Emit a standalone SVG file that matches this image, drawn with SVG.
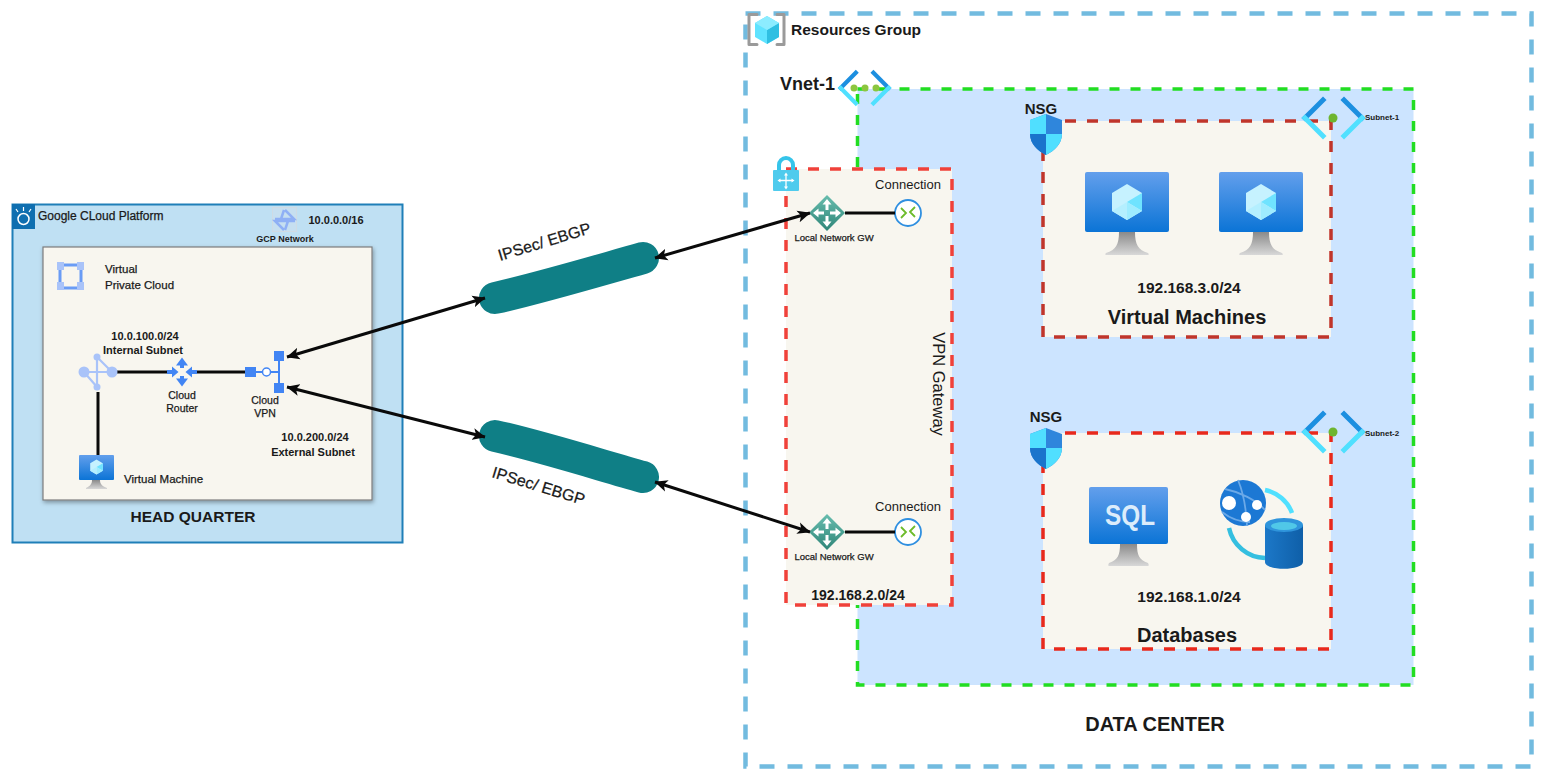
<svg xmlns="http://www.w3.org/2000/svg" xmlns:xlink="http://www.w3.org/1999/xlink" width="1545" height="780" viewBox="0 0 1545 780">
<style>
text{font-family:"Liberation Sans",Arial,sans-serif;fill:#1a1a1a}
.b{font-weight:bold}
.m{text-anchor:middle}
.h{stroke:#1a1a1a;stroke-width:.25}
.conn{fill:none;stroke:#0a0a0a;stroke-width:3}
.link{fill:none;stroke:#0a0a0a;stroke-width:3;marker-start:url(#ah);marker-end:url(#ah)}
.box{fill:#f8f6ef;stroke-width:3.500;stroke-dasharray:11 11}
.gc{fill:#a9c3f9}
</style>
<defs>
<marker id="ah" viewBox="0 0 12 12" refX="11.500" refY="6" markerWidth="13" markerHeight="13" markerUnits="userSpaceOnUse" orient="auto-start-reverse"><path d="M0 0.500L12 6L0 11.500L3 6Z" fill="#0a0a0a"/></marker>
<filter id="sh" x="-5%" y="-5%" width="110%" height="110%"><feDropShadow dx="1" dy="2" stdDeviation="2" flood-color="#000" flood-opacity=".35"/></filter>
<linearGradient id="scr" x1="0" y1="0" x2="0" y2="1"><stop offset="0" stop-color="#639fec"/><stop offset="1" stop-color="#0b74d6"/></linearGradient>
<linearGradient id="std" x1="0" y1="0" x2="0" y2="1"><stop offset="0" stop-color="#8a8a8a"/><stop offset="1" stop-color="#d8d8d8"/></linearGradient>
<linearGradient id="teal" x1="0" y1="0" x2="0" y2="1"><stop offset="0" stop-color="#68bdae"/><stop offset="1" stop-color="#2f8578"/></linearGradient>
<linearGradient id="cyl" x1="0" y1="0" x2="1" y2="0"><stop offset="0" stop-color="#1c78c8"/><stop offset="1" stop-color="#0f5fa8"/></linearGradient>
<g id="monitor">
<rect x="0" y="0" width="84" height="60" rx="2" fill="url(#scr)"/>
<path d="M34 60H50C50 72 53 78 63 81C64 82 64 83 63 83H21C20 83 20 82 21 81C31 78 34 72 34 60Z" fill="url(#std)"/>
</g>
<g id="cube">
<path d="M0 -18L15 -9V9L0 18L-15 9V-9Z" fill="#c6f2ff"/>
<path d="M0 0L15 -9V9Z" fill="#6fe3ff"/>
<path d="M0 0L15 9L0 18Z" fill="#9eecff"/>
<path d="M0 0L-15 9L0 18Z" fill="#b4efff"/>
</g>
<g id="gw">
<path d="M0 -18L18 0L0 18L-18 0Z" fill="url(#teal)"/>
<path d="M0 -14L4.500 -8.500H1.500V-3H-1.500V-8.500H-4.500ZM0 14L4.500 8.500H1.500V3H-1.500V8.500H-4.500ZM-14 0L-8.500 -4.500V-1.500H-3V1.500H-8.500V4.500ZM14 0L8.500 -4.500V-1.500H3V1.500H8.500V4.500Z" fill="#fff"/>
</g>
<g id="connIcon">
<circle r="13" fill="#fff" stroke="#2f8fe0" stroke-width="1.800"/>
<path d="M-7 -5L-2 0L-7 5M7 -6L2 -1L7 4" fill="none" stroke="#6cbb2a" stroke-width="1.800"/>
</g>
<g id="shield">
<path d="M16 0L32 6V20C32 30 24 37 16 41C8 37 0 30 0 20V6Z" fill="#2f86dc"/>
<path d="M16 0V20H0V6ZM16 20H32C32 30 24 37 16 41Z" fill="#50dfff"/>
<path d="M16 20V41C8 37 0 30 0 20Z" fill="#1a74cc"/>
</g>
<g id="subnetIcon">
<path d="M20 -18L2 0" stroke="#1c8fe0" stroke-width="5" fill="none" stroke-linecap="square"/>
<path d="M2 0L20 18" stroke="#50e0ff" stroke-width="5" fill="none" stroke-linecap="square"/>
<path d="M41 -18L59 0" stroke="#1c8fe0" stroke-width="5" fill="none" stroke-linecap="square"/>
<path d="M59 0L41 18" stroke="#50e0ff" stroke-width="5" fill="none" stroke-linecap="square"/>
</g>
</defs>

<rect width="1545" height="780" fill="#fff"/>

<g id="data-center">
<rect x="745.500" y="13.500" width="786" height="753" fill="#fff" stroke="#72bbdf" stroke-width="4.500" stroke-dasharray="15 13"/>
<text class="b m" x="1155" y="731" font-size="20">DATA CENTER</text>
</g>

<g id="resources-group">
<path d="M757 14.500H749V44.500H757M777 14.500H784V44.500H777" fill="none" stroke="#9a9a9a" stroke-width="3" stroke-linejoin="round" stroke-linecap="round"/>
<g transform="translate(767 30)"><path d="M0 -14L12 -7V7L0 14L-12 7V-7Z" fill="#5fe3ff"/><path d="M0 0L12 -7V7L0 14Z" fill="#2fbfe2"/><path d="M0 0L-12 -7L0 -14L12 -7Z" fill="#8cecff"/></g>
<text class="b" x="791" y="35" font-size="15.500">Resources Group</text>
</g>

<g id="vnet">
<rect x="857.500" y="89" width="556" height="596" fill="#cce4ff" stroke="#22dd22" stroke-width="3.500" stroke-dasharray="10 11"/>
<text class="b" x="780" y="90" font-size="18">Vnet-1</text>
<g transform="translate(839 88)">
<use xlink:href="#subnetIcon" href="#subnetIcon" transform="scale(.84 .85)"/>
<circle cx="15" cy="0" r="3.500" fill="#8cc63f"/><circle cx="26" cy="0" r="3.500" fill="#8cc63f"/><circle cx="37" cy="0" r="3.500" fill="#8cc63f"/>
</g>
</g>

<g id="vpn-gateway">
<rect class="box" x="786" y="169" width="166" height="436" stroke="#f0413a"/>
<g transform="translate(773 156)">
<path d="M6 14V9A7 7 0 0 1 20 9V14" fill="none" stroke="#35c4ea" stroke-width="4"/>
<rect x="0" y="14" width="26" height="21" rx="1" fill="#4fcbed"/>
<path d="M13 18V32M6 24.500H20" stroke="#fff" stroke-width="1.300"/>
<path d="M13 16.500L15 19.500H11ZM13 33.500L15 30.500H11ZM4.500 24.500L7.500 22.500V26.500ZM21.500 24.500L18.500 22.500V26.500Z" fill="#fff"/>
</g>
<text class="m" x="908" y="189" font-size="13">Connection</text>
<text class="m" x="908" y="511" font-size="13">Connection</text>
<text class="m" transform="translate(933 384) rotate(90)" font-size="16.500">VPN Gateway</text>
<text class="b m" x="858" y="600" font-size="14">192.168.2.0/24</text>
</g>

<g id="local-gw-1">
<use xlink:href="#gw" href="#gw" x="827" y="213"/>
<text class="m h" x="834" y="241" font-size="9.500">Local Network GW</text>
</g>
<g id="connection-1"><use xlink:href="#connIcon" href="#connIcon" x="908" y="213"/></g>
<g id="local-gw-2">
<use xlink:href="#gw" href="#gw" x="827" y="532"/>
<text class="m h" x="834" y="560" font-size="9.500">Local Network GW</text>
</g>
<g id="connection-2"><use xlink:href="#connIcon" href="#connIcon" x="908" y="532"/></g>

<g id="subnet-1">
<rect class="box" x="1043" y="121" width="288" height="216" stroke="#c0352b"/>
<use xlink:href="#subnetIcon" href="#subnetIcon" x="1303" y="118"/>
<circle cx="1333" cy="118" r="4.500" fill="#6eb52f"/>
<text class="b" x="1365" y="120" font-size="8">Subnet-1</text>
<use xlink:href="#monitor" href="#monitor" x="1085" y="172"/>
<use xlink:href="#cube" href="#cube" x="1127" y="202"/>
<use xlink:href="#monitor" href="#monitor" x="1219" y="172"/>
<use xlink:href="#cube" href="#cube" x="1261" y="202"/>
<text class="b m" x="1189" y="293" font-size="15.500">192.168.3.0/24</text>
<text class="b m" x="1187" y="324" font-size="20">Virtual Machines</text>
</g>
<g id="nsg-1">
<use xlink:href="#shield" href="#shield" x="1030" y="114"/>
<text class="b m" x="1041" y="114" font-size="15">NSG</text>
</g>

<g id="subnet-2">
<rect class="box" x="1043" y="433" width="288" height="216" stroke="#e8291c"/>
<use xlink:href="#subnetIcon" href="#subnetIcon" x="1303" y="432"/>
<circle cx="1333" cy="432" r="4.500" fill="#6eb52f"/>
<text class="b" x="1365" y="436" font-size="8">Subnet-2</text>
<g transform="translate(1089 487)">
<rect x="0" y="0" width="79" height="57" rx="2" fill="url(#scr)"/>
<path d="M31 57H48C48 68 50 73 59 76C60 78 60 79 59 79H20C19 79 19 78 20 76C29 73 31 68 31 57Z" fill="url(#std)"/>
<text class="b m" x="41" y="38" font-size="30" textLength="50" lengthAdjust="spacingAndGlyphs" style="fill:#dcecfb">SQL</text>
</g>
<path d="M1265 490A36 36 0 0 1 1292 513" fill="none" stroke="#50e0ff" stroke-width="4.500"/>
<path d="M1229 528A38 38 0 0 0 1265 558" fill="none" stroke="#35bfe0" stroke-width="4.500"/>
<circle cx="1243" cy="503" r="23" fill="#1c78d4"/>
<path d="M1225 489C1240 492 1256 500 1265 510M1238 480C1243 492 1246 505 1247 526M1222 512C1232 520 1240 522 1250 522" fill="none" stroke="#6ba9e8" stroke-width="1.800"/>
<circle cx="1229" cy="503" r="7" fill="#fff"/><circle cx="1257" cy="505" r="5" fill="#fff"/><circle cx="1246" cy="517" r="5" fill="#fff"/>
<path d="M1265 525V562C1265 571 1303 571 1303 562V525Z" fill="url(#cyl)"/>
<ellipse cx="1284" cy="525" rx="19" ry="7" fill="#2f95dc"/>
<ellipse cx="1284" cy="526" rx="13" ry="4" fill="#50c8e8"/>
<text class="b m" x="1189" y="602" font-size="15.500">192.168.1.0/24</text>
<text class="b m" x="1187" y="642" font-size="20">Databases</text>
</g>
<g id="nsg-2">
<use xlink:href="#shield" href="#shield" x="1030" y="428"/>
<text class="b m" x="1046" y="422" font-size="15">NSG</text>
</g>

<g id="head-quarter">
<rect x="12.500" y="204.500" width="390" height="338" fill="#bfe0f3" stroke="#1f7fb8" stroke-width="2"/>
<rect x="12" y="204" width="23" height="25" fill="#0f6fb0"/>
<circle cx="23.500" cy="219" r="5.500" fill="none" stroke="#fff" stroke-width="1.500"/>
<path d="M23.500 207V211M16 209L18 212M31 209L29 212" stroke="#fff" stroke-width="1.200"/>
<text class="h" x="38" y="220" font-size="12">Google CLoud Platform</text>
<text class="b m" x="336" y="224" font-size="11">10.0.0.0/16</text>
<text class="b m" x="193" y="522" font-size="15.500">HEAD QUARTER</text>
<text class="m b" x="285" y="242" font-size="9">GCP Network</text>
</g>
<g id="gcp-network">
<rect x="272.500" y="207.500" width="24" height="24" fill="#c6dff0" stroke="#cfdbe4"/>
<path d="M285 210L294 219H275M284 230L275 221H295M284 210L281 219M285 230L288 221" fill="none" stroke="#8fb0f5" stroke-width="2.500"/>
</g>

<g id="vpc">
<rect x="43" y="247" width="329" height="253" fill="#f8f6ef" stroke="#7d7d7d" stroke-width="1.200" filter="url(#sh)"/>
<rect x="60" y="265" width="21" height="23" fill="none" stroke="#6a9cf5" stroke-width="3"/>
<rect x="57" y="262" width="7" height="8" class="gc"/><rect x="77" y="262" width="7" height="8" class="gc"/><rect x="57" y="282" width="7" height="8" class="gc"/><rect x="77" y="282" width="7" height="8" class="gc"/>
<text class="h" x="105" y="273" font-size="11.500">Virtual</text>
<text class="h" x="105" y="289" font-size="11.500">Private Cloud</text>
<text class="b m" x="145" y="340" font-size="11">10.0.100.0/24</text>
<text class="b m" x="143" y="354" font-size="11">Internal Subnet</text>
<text class="b m" x="315" y="441" font-size="11">10.0.200.0/24</text>
<text class="b m" x="313" y="456" font-size="11">External Subnet</text>
</g>

<g id="connectors">
<path class="conn" d="M112 372H168M195 372H246M98 392V455"/>
<path class="conn" d="M845 213H895M845 532H895"/>
</g>

<g id="internal-subnet">
<path d="M84 372H112M97 357L112 372M97 387L84 372M97 357V387" fill="none" stroke="#a9c3f9" stroke-width="2.200"/>
<circle cx="84" cy="372" r="5.500" class="gc"/><circle cx="112" cy="372" r="5.500" class="gc"/><circle cx="97" cy="357" r="3.500" class="gc"/><circle cx="97" cy="387" r="3.500" class="gc"/>
</g>
<g id="cloud-router">
<path d="M182 357.500L188 365.500H184V368H180V365.500H176ZM182 386.500L188 378.500H184V376H180V378.500H176ZM178.500 372L172 366.500V370H167V374H172V377.500ZM185.500 372L192 366.500V370H197V374H192V377.500Z" fill="#4285f4"/>
<text class="m h" x="182" y="399" font-size="10.500">Cloud</text>
<text class="m h" x="182" y="412" font-size="10.500">Router</text>
</g>
<g id="cloud-vpn">
<rect x="245" y="367" width="11" height="10" fill="#4285f4"/>
<path d="M256 372H262M270 372H279M279 358V388" stroke="#4285f4" stroke-width="2" fill="none"/>
<circle cx="266.500" cy="372" r="4" fill="#fff" stroke="#4285f4" stroke-width="1.500"/>
<rect x="274" y="351" width="10" height="10" fill="#4285f4"/>
<rect x="274" y="383" width="10" height="10" fill="#4285f4"/>
<text class="m h" x="265" y="404" font-size="10.500">Cloud</text>
<text class="m h" x="265" y="417" font-size="10.500">VPN</text>
</g>
<g id="virtual-machine">
<rect x="79" y="455" width="35" height="25" rx="1" fill="url(#scr)"/>
<path d="M92 480H100C100 484 102 486 107 488V489H86V488C90 486 92 484 92 480Z" fill="url(#std)"/>
<use xlink:href="#cube" href="#cube" transform="translate(96.500 467) scale(.42)"/>
<text class="h" x="124" y="483" font-size="11.500">Virtual Machine</text>
</g>

<g id="tunnel-1">
<path d="M495 298C540 288 600 270 643 258" fill="none" stroke="#0f7f86" stroke-width="32" stroke-linecap="round"/>
<text class="m h" transform="translate(546 247) rotate(-17)" font-size="16">IPSec/ EBGP</text>
</g>
<g id="tunnel-2">
<path d="M495 436C540 446 600 465 643 477" fill="none" stroke="#0f7f86" stroke-width="32" stroke-linecap="round"/>
<text class="m h" transform="translate(537 491) rotate(17)" font-size="16">IPSec/ EBGP</text>
</g>

<g id="links">
<path class="link" d="M287 357L485 298"/>
<path class="link" d="M287 387L485 437"/>
<path class="link" d="M655 258L810 213"/>
<path class="link" d="M655 482L810 532"/>
</g>
</svg>
